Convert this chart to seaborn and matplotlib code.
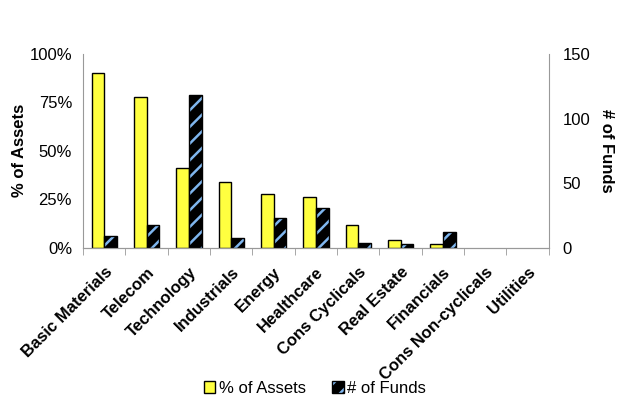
import pandas as pd
import matplotlib
matplotlib.use("Agg")
import matplotlib.pyplot as plt
import matplotlib.patches as mpatches
import seaborn as sns

sectors = ["Basic Materials", "Telecom", "Technology", "Industrials", "Energy",
           "Healthcare", "Cons Cyclicals", "Real Estate", "Financials",
           "Cons Non-cyclicals", "Utilities"]
pct_assets = [0.90, 0.78, 0.41, 0.34, 0.28, 0.26, 0.12, 0.043, 0.022, 0.0, 0.0]
num_funds = [9, 18, 118, 8, 23, 31, 4, 3, 12, 0, 0]
series = ["% of Assets", "# of Funds"]

sns.set_style("white")
plt.rcParams["font.family"] = ["Liberation Sans", "DejaVu Sans"]
plt.rcParams["text.color"] = "black"
plt.rcParams["axes.labelcolor"] = "black"
plt.rcParams["xtick.color"] = "black"
plt.rcParams["ytick.color"] = "black"
plt.rcParams["hatch.linewidth"] = 1.8

blue = "#7fb6ee"
yellow = "#ffff40"

# long tables, one per axis; the other series is zeroed and hidden afterwards
df_left = pd.DataFrame({"sector": sectors * 2,
                        "series": [series[0]] * 11 + [series[1]] * 11,
                        "value": pct_assets + [0] * 11})
df_right = pd.DataFrame({"sector": sectors * 2,
                         "series": [series[0]] * 11 + [series[1]] * 11,
                         "value": [0] * 11 + num_funds})

fig = plt.figure(figsize=(6.3, 4.05), dpi=100)
ax = fig.add_axes([0.132, 0.388, 0.739, 0.479])
ax2 = ax.twinx()

sns.barplot(data=df_left, x="sector", y="value", hue="series", hue_order=series,
            order=sectors, width=0.6, gap=0.0, ax=ax, legend=False,
            palette=[yellow, "black"], saturation=1, edgecolor="black",
            linewidth=1)
sns.barplot(data=df_right, x="sector", y="value", hue="series", hue_order=series,
            order=sectors, width=0.6, gap=0.0, ax=ax2, legend=False,
            palette=[yellow, "black"], saturation=1, edgecolor="black",
            linewidth=1)

for p in ax.containers[1]:
    p.set_visible(False)
for p in ax2.containers[0]:
    p.set_visible(False)
for p, v in zip(ax.containers[0], pct_assets):
    if v == 0:
        p.set_visible(False)


def hatch_black(p):
    p.set_facecolor("black")
    p.set_hatch("//")
    p.set_edgecolor("black")
    if hasattr(p, "set_hatchcolor"):
        p.set_hatchcolor(blue)
    else:
        p._hatch_color = matplotlib.colors.to_rgba(blue)


for p, v in zip(ax2.containers[1], num_funds):
    if v == 0:
        p.set_visible(False)
    hatch_black(p)

ax.set_ylim(0, 1.0)
ax2.set_ylim(0, 150)
ax.set_xlim(-0.5, 10.5)
ax.set_yticks([0, 0.25, 0.5, 0.75, 1.0])
ax.set_yticklabels(["0%", "25%", "50%", "75%", "100%"])
ax2.set_yticks([0, 50, 100, 150])

ax.set_xlabel("")
ax2.set_xlabel("")
ax.set_ylabel("% of Assets", fontsize=12, fontweight="bold", labelpad=2)
ax2.set_ylabel("# of Funds", fontsize=12, fontweight="bold", rotation=270,
               labelpad=17)
ax.set_xticks(range(len(sectors)))
ax.set_xticklabels(sectors, rotation=45, ha="right", rotation_mode="anchor",
                   fontsize=12, fontweight="bold")
ax.set_xticks([i + 0.5 for i in range(-1, len(sectors))], minor=True)
ax.tick_params(axis="x", which="major", length=0, pad=12)
ax.tick_params(axis="x", which="minor", length=5, color="#999999",
               direction="out", bottom=True)
ax.tick_params(axis="y", length=0, labelsize=12, pad=8)
ax2.tick_params(axis="y", length=0, labelsize=12, pad=10)

for a in (ax, ax2):
    a.spines["top"].set_visible(False)
    for s in ("left", "right", "bottom"):
        a.spines[s].set_color("#999999")
ax.spines["right"].set_visible(False)
ax2.spines["left"].set_visible(False)

leg_funds = mpatches.Patch(label=series[1])
hatch_black(leg_funds)
handles = [mpatches.Patch(facecolor=yellow, edgecolor="black", label=series[0]),
           leg_funds]
fig.legend(handles=handles, loc="lower center", bbox_to_anchor=(0.5, -0.015),
           ncol=2, frameon=False, fontsize=12, handlelength=0.7,
           handleheight=0.7, handletextpad=0.2, columnspacing=1.6)

fig.savefig("out.png", dpi=100)
